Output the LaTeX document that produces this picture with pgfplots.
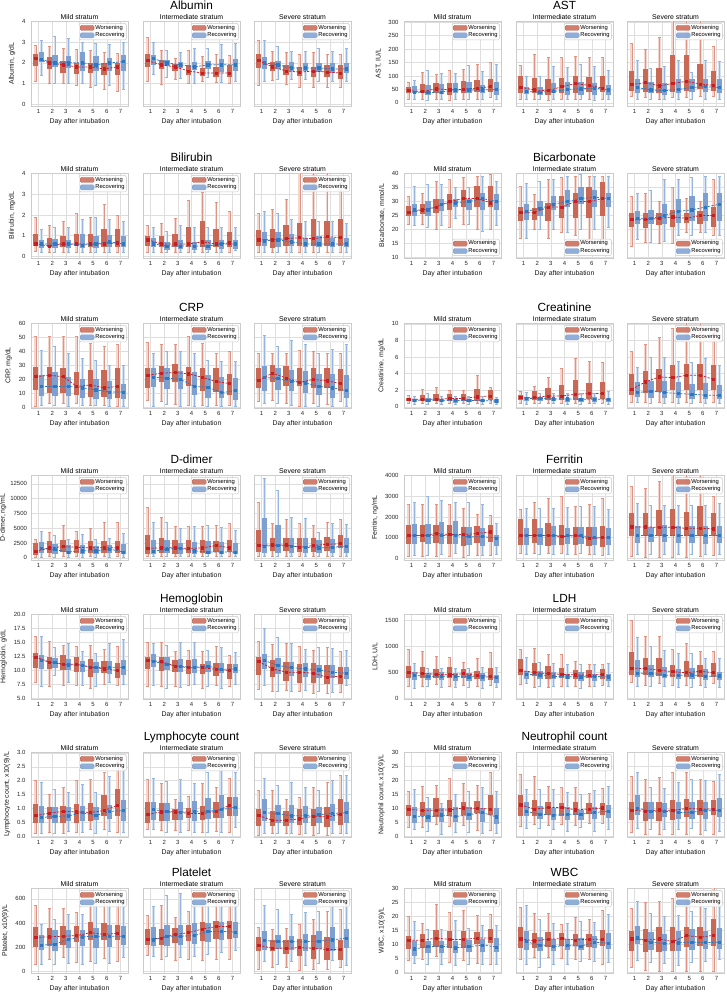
\documentclass[border=0pt]{standalone}
\usepackage{pgfplots}
\usepackage{pgfplotstable}
\pgfplotsset{compat=1.18}
\usepackage{fontspec}
\setmainfont{Liberation Sans}

\definecolor{wbox}{RGB}{201,104,84}
\definecolor{wwhisk}{RGB}{222,148,130}
\definecolor{wband}{RGB}{244,214,206}
\definecolor{wline}{RGB}{200,30,35}
\definecolor{rbox}{RGB}{125,160,208}
\definecolor{rwhisk}{RGB}{150,182,224}
\definecolor{rband}{RGB}{214,227,243}
\definecolor{rline}{RGB}{45,120,195}

\newcommand{\fa}{\fontsize{6}{7}\selectfont}
\newcommand{\fb}{\fontsize{6.9}{8}\selectfont}
\newcommand{\fc}{\fontsize{11.8}{14}\selectfont}
\newcommand{\fl}{\fontsize{5.8}{6.8}\selectfont}

\pgfplotsset{
 every axis title shift=0pt,
 sub/.style={
  scale only axis, width=97pt, height=85pt, anchor=north west,
  xmin=0.45, xmax=7.55, xtick={1,...,7},
  grid=major, major grid style={line width=0.5pt, draw=black!13},
  axis line style={draw=black!20, line width=0.6pt},
  major tick length=0pt, tick style={draw=none},
  tick label style={font=\fa, text=black!85},
  yticklabel style={xshift=-2pt},
  xticklabel style={yshift=0.5pt},
  scaled y ticks=false,
  xlabel={Day after intubation},
  label style={font=\fb, text=black!90},
  xlabel style={yshift=1.5pt},
  every axis title/.style={at={(0.5,1)}, anchor=south, inner sep=1.6pt, font=\fb},
  legend style={font=\fl, draw=black!22, rounded corners=1.5pt, fill=white, fill opacity=0.85, text opacity=1,
    inner sep=0.8pt, nodes={inner sep=0.9pt}, at={(0.985,0.975)}, anchor=north east},
  legend cell align=left,
  /pgf/number format/assume math mode=true,
  /pgf/number format/1000 sep={},
 },
 legNE/.style={legend style={at={(0.985,0.975)}, anchor=north east}},
 legSE/.style={legend style={at={(0.985,0.025)}, anchor=south east}},
 onedec/.style={yticklabel style={/pgf/number format/.cd, fixed, fixed zerofill, precision=1}},
 tight/.style={yticklabel style={xshift=1.5pt}, ylabel shift=-3pt},
}

% vertical segment from column #3 to column #4, drawn as a quiver arrow without head
\newcommand{\seg}[6]{\addplot[forget plot, mark=none, draw=#5, line width=#6, quiver={u=0, v=\thisrow{#4}-\thisrow{#3}}] table[x expr=\thisrow{d}#2, y=#3] {#1};}
\newcommand{\caps}[4]{\addplot[forget plot, only marks, mark=-, mark size=1.5pt, color=#4, mark options={line width=0.5pt}] table[x expr=\thisrow{d}#2, y=#3] {#1};}
\newcommand{\medline}[3]{\addplot[forget plot, color=#3line, line width=0.75pt, dash pattern=on 2.2pt off 1.4pt, mark=square*, mark size=1.1pt, mark options={solid, fill=#3line}] table[x expr=\thisrow{d}#2, y=#3m] {#1};}
\newcommand{\drawsub}[1]{%
  \seg{#1}{-0.2}{wl}{wh}{wband}{2.8pt}\seg{#1}{+0.2}{rl}{rh}{rband}{2.8pt}%
  \seg{#1}{-0.2}{wl}{wh}{wwhisk}{0.5pt}\seg{#1}{+0.2}{rl}{rh}{rwhisk}{0.5pt}%
  \caps{#1}{-0.2}{wl}{wwhisk}\caps{#1}{-0.2}{wh}{wwhisk}%
  \caps{#1}{+0.2}{rl}{rwhisk}\caps{#1}{+0.2}{rh}{rwhisk}%
  \seg{#1}{-0.2}{wq}{wu}{wbox}{5.3pt}\seg{#1}{+0.2}{rq}{ru}{rbox}{5.3pt}%
  \medline{#1}{-0.2}{w}\medline{#1}{+0.2}{r}%
  \addlegendimage{legend image code/.code={\fill[wbox] (0pt,-2.6pt) rectangle (14pt,2.6pt);}}
  \addlegendentry{Worsening}
  \addlegendimage{legend image code/.code={\fill[rbox] (0pt,-2.6pt) rectangle (14pt,2.6pt);}}
  \addlegendentry{Recovering}%
}
\newcommand{\setL}{\def\xA{31}\def\xB{143}\def\xC{254}}
\newcommand{\setR}{\def\xA{404}\def\xB{516}\def\xC{627}}
\newcommand{\panel}[9]{%
  \csname set#1\endcsname
  \begin{axis}[sub, at={(\xA pt,-#2pt)}, title={Mild stratum}, ylabel={#4}, #5, #9]
    \drawsub{#6}
  \end{axis}
  \begin{axis}[sub, name=midax, at={(\xB pt,-#2pt)}, title={Intermediate stratum}, #5, yticklabels={}, #9]
    \drawsub{#7}
  \end{axis}
  \node[anchor=base, font=\fc] at ([yshift=11.5pt]midax.north) {#3};
  \begin{axis}[sub, at={(\xC pt,-#2pt)}, title={Severe stratum}, #5, yticklabels={}, #9]
    \drawsub{#8}
  \end{axis}
}

% columns: day, worsening (low whisker, q1, median, q3, high whisker), recovering (same)
\pgfplotstableread{
d wl wq wm wu wh rl rq rm ru rh
1 1.1 1.85 2.2 2.45 2.85 1.4 2.05 2.15 2.5 3.1
2 1.0 1.7 2.0 2.3 2.8 1.0 1.8 2.0 2.4 3.3
3 1.0 1.5 1.9 2.1 2.7 1.0 1.75 2.0 2.35 3.2
4 0.9 1.45 1.8 2.0 2.65 1.0 1.6 2.0 2.5 3.0
5 0.8 1.5 1.8 2.0 2.6 0.9 1.6 1.9 2.35 2.95
6 0.7 1.4 1.7 2.0 2.5 0.9 1.6 2.0 2.25 2.9
7 0.6 1.4 1.8 2.0 2.45 0.7 1.6 2.05 2.4 3.0
}\tAlbM
\pgfplotstableread{
d wl wq wm wu wh rl rq rm ru rh
1 1.1 1.8 2.1 2.45 3.25 1.45 1.9 2.2 2.4 3.0
2 0.95 1.7 1.9 2.15 2.6 1.3 1.85 2.0 2.15 2.6
3 1.2 1.6 1.8 1.95 2.2 1.25 1.75 1.9 2.05 2.5
4 1.0 1.4 1.6 1.9 2.6 1.0 1.65 1.8 2.05 2.7
5 1.1 1.35 1.5 1.75 2.3 1.3 1.7 1.9 2.1 2.7
6 1.05 1.3 1.5 1.8 2.4 1.05 1.55 1.9 2.2 2.9
7 1.0 1.3 1.5 1.9 2.35 1.1 1.6 1.9 2.2 2.95
}\tAlbI
\pgfplotstableread{
d wl wq wm wu wh rl rq rm ru rh
1 0.9 1.75 2.1 2.45 3.1 1.1 1.7 2.0 2.3 3.1
2 1.15 1.6 1.8 2.05 2.55 1.2 1.7 1.9 2.1 2.8
3 0.95 1.4 1.6 1.9 2.5 1.2 1.6 1.75 2.05 2.55
4 0.8 1.35 1.55 1.8 2.4 1.2 1.6 1.75 2.0 2.55
5 0.8 1.3 1.6 1.8 2.5 1.1 1.55 1.75 2.0 2.7
6 0.8 1.3 1.55 1.9 2.4 1.1 1.5 1.7 2.0 2.55
7 0.8 1.2 1.5 1.9 2.4 1.1 1.5 1.7 2.0 2.7
}\tAlbS
\pgfplotstableread{
d wl wq wm wu wh rl rq rm ru rh
1 15 35 45 60 78 15 35 40 62 85
2 15 35 42 70 115 10 30 38 65 120
3 15 35 52 72 105 12 33 40 70 110
4 10 30 48 72 120 12 35 48 72 110
5 15 35 50 80 125 12 35 48 78 140
6 15 40 55 85 142 12 35 48 68 118
7 20 40 60 90 150 12 30 50 78 142
}\tAstM
\pgfplotstableread{
d wl wq wm wu wh rl rq rm ru rh
1 15 38 58 100 140 12 32 42 60 100
2 12 35 48 92 180 12 30 40 60 100
3 10 30 45 87 168 12 35 42 72 135
4 15 38 60 93 168 12 30 50 78 132
5 12 38 72 100 175 12 30 52 78 142
6 15 40 65 97 168 10 30 55 75 135
7 15 40 55 100 168 12 30 48 68 120
}\tAstI
\pgfplotstableread{
d wl wq wm wu wh rl rq rm ru rh
1 25 45 68 117 222 15 35 57 87 160
2 20 40 75 125 198 12 35 48 78 130
3 15 35 63 130 243 12 30 45 75 135
4 20 40 72 177 330 15 35 50 87 157
5 20 45 80 180 330 15 40 57 87 115
6 25 50 70 144 330 15 40 60 88 160
7 25 45 65 120 210 15 35 57 90 155
}\tAstS
\pgfplotstableread{
d wl wq wm wu wh rl rq rm ru rh
1 0.25 0.5 0.6 1.1 1.9 0.2 0.4 0.6 0.8 1.3
2 0.2 0.45 0.5 0.9 1.5 0.2 0.4 0.6 0.85 1.4
3 0.2 0.45 0.6 1.0 1.7 0.2 0.4 0.6 0.8 1.4
4 0.2 0.5 0.6 1.1 2.1 0.2 0.4 0.55 1.1 1.8
5 0.2 0.45 0.6 1.1 1.9 0.2 0.4 0.6 1.0 1.9
6 0.2 0.45 0.6 1.3 2.5 0.2 0.45 0.7 1.05 1.8
7 0.2 0.45 0.65 1.3 2.0 0.2 0.45 0.6 1.0 1.7
}\tBilM
\pgfplotstableread{
d wl wq wm wu wh rl rq rm ru rh
1 0.2 0.5 0.8 1.0 1.5 0.2 0.45 0.6 0.9 1.4
2 0.2 0.45 0.6 1.0 1.6 0.2 0.3 0.5 0.7 1.2
3 0.2 0.45 0.6 1.1 1.85 0.2 0.35 0.5 0.8 1.5
4 0.2 0.45 0.6 1.4 2.7 0.2 0.3 0.5 0.7 1.4
5 0.2 0.45 0.7 1.7 3.1 0.2 0.3 0.5 0.8 1.4
6 0.2 0.45 0.6 1.3 2.6 0.2 0.35 0.6 0.8 1.4
7 0.2 0.45 0.65 1.2 2.2 0.3 0.35 0.6 0.8 1.4
}\tBilI
\pgfplotstableread{
d wl wq wm wu wh rl rq rm ru rh
1 0.2 0.5 0.8 1.25 2.1 0.2 0.5 0.75 1.2 2.2
2 0.2 0.4 0.8 1.3 2.3 0.2 0.45 0.8 1.2 2.1
3 0.2 0.5 0.85 1.5 2.75 0.2 0.5 0.7 1.1 1.8
4 0.2 0.5 0.9 1.6 4.2 0.2 0.45 0.6 0.9 1.7
5 0.2 0.5 0.85 1.8 4.2 0.2 0.45 0.6 1.0 1.7
6 0.2 0.5 0.95 1.7 4.2 0.2 0.45 0.6 0.9 1.7
7 0.2 0.5 0.9 1.8 3.6 0.2 0.45 0.6 0.9 1.6
}\tBilS
\pgfplotstableread{
d wl wq wm wu wh rl rq rm ru rh
1 22 25 26 28.5 32 21.5 25 27 29 35.5
2 22 25.5 27 29 33 21 25 27 30 36
3 20 26 28 31 37 21.5 26.5 29 31 36
4 21 27 30 32.5 38 24 28 29.5 31 35
5 22 28 31 34 38.5 22 27 30 31 35
6 20 28 31 35.5 39 19.5 27 31 33 39
7 20 28 29.5 35.5 39.5 21.5 27 30 32.5 37
}\tBicM
\pgfplotstableread{
d wl wq wm wu wh rl rq rm ru rh
1 16.8 23 26 28 35.5 17 23.5 26.5 29 36.5
2 20 23.5 26 27.5 32.5 20 25 27.5 30 37
3 17 23 28 29.5 38 20 27 29 32 38
4 19 24 28 32 38.5 19 28 30 34 39
5 18 24 30 33 39 20 29 31 35 39.5
6 15 24 30 35 39 20 28 31.5 34 39
7 15 25 31 37 39 21 28 31 33 39
}\tBicI
\pgfplotstableread{
d wl wq wm wu wh rl rq rm ru rh
1 14 21 23.5 26 32 16.5 22 24 26.5 33
2 15.5 20.5 23.5 26 33 15.5 22 24 27 34
3 15 21.5 24 26 30 16 22 25 29 38
4 15 21 24.5 27 35 18 22.5 26.5 31 38
5 19 22.5 24 26 31 18 23 27 32 38.5
6 19 22 25 26.5 30 19 23 28 33 39
7 18 21 25 28 38 18 23 29 33 39
}\tBicS
\pgfplotstableread{
d wl wq wm wu wh rl rq rm ru rh
1 0.5 12.5 22 29 51 1.5 8 15 23 41
2 3 10 23 29 51 1.5 8 15 25 44
3 3 10 22 28 51 1 8 15 22 39
4 3 9 15 25.5 51 1.5 7 14 20.5 35.5
5 1.5 7.5 16 27 46 1.5 6 12.5 20 34
6 1.5 7.5 14 26.5 43.5 1 6 11 19 30.5
7 1 6.5 15 28 45 1 6 11 16.5 30.5
}\tCrpM
\pgfplotstableread{
d wl wq wm wu wh rl rq rm ru rh
1 5 14 23 28.5 47 1 14.5 21.5 28 38.5
2 4.5 18 24.5 29.5 45.5 2 13 21 28 40
3 2 18 25 31 45.5 1 13 20 26 40.5
4 1.5 15 24 29 51 1 9 15 25.5 38.5
5 1.5 12 21.5 28.5 46 1 6.5 14.5 23.5 33.5
6 1.5 11 18.5 28 39 1 6.5 10.5 22 33
7 1.5 9 17 24 40 1 5.5 12 21 33
}\tCrpI
\pgfplotstableread{
d wl wq wm wu wh rl rq rm ru rh
1 4 14 19.5 28 39 3 11.5 21.5 29.5 52
2 5 18 24.5 30.5 39 3 12.5 20.5 28 44
3 3 15 21 29.5 39 1.5 11.5 18.5 27 48
4 1 15 18 28.5 41 1 10 17.5 26 45
5 3 14 20 28.5 40 1 9 15 24 38.5
6 2.5 14 19 28.5 39 1 7 14 24 42
7 4 12 17 27.5 39 1 6.5 12 23 45
}\tCrpS
\pgfplotstableread{
d wl wq wm wu wh rl rq rm ru rh
1 0.4 0.7 0.9 1.1 1.4 0.3 0.6 0.8 0.95 1.3
2 0.4 0.7 0.9 1.4 2.1 0.3 0.55 0.8 1.0 1.6
3 0.4 0.7 0.9 1.5 2.4 0.3 0.55 0.8 0.95 1.3
4 0.4 0.7 1.0 1.5 2.0 0.3 0.5 0.75 0.95 1.3
5 0.4 0.7 1.0 1.5 2.0 0.3 0.55 0.75 0.95 1.3
6 0.4 0.7 1.2 2.2 3.8 0.3 0.55 0.75 0.95 1.3
7 0.4 0.8 1.3 2.0 2.4 0.3 0.5 0.7 0.95 1.2
}\tCreM
\pgfplotstableread{
d wl wq wm wu wh rl rq rm ru rh
1 0.4 0.8 1.1 1.4 1.9 0.3 0.7 1.0 1.2 1.7
2 0.4 0.8 1.1 1.9 2.5 0.4 0.7 1.0 1.2 1.6
3 0.4 0.8 1.3 2.3 3.6 0.4 0.7 0.95 1.1 1.6
4 0.4 0.8 1.3 2.6 4.7 0.3 0.6 0.95 1.1 1.6
5 0.4 0.8 1.5 3.2 5.8 0.3 0.6 0.9 1.1 1.6
6 0.4 0.9 1.6 2.9 5.5 0.4 0.6 0.9 1.2 1.6
7 0.4 0.9 1.6 3.0 5.4 0.3 0.6 0.9 1.1 1.9
}\tCreI
\pgfplotstableread{
d wl wq wm wu wh rl rq rm ru rh
1 0.5 1.4 2.1 3.9 6.7 0.5 1.2 1.7 3.0 4.8
2 0.6 1.6 3.0 4.3 7.5 0.4 1.0 1.9 3.1 6.0
3 0.6 1.8 3.6 4.5 8.4 0.4 1.0 1.7 3.1 6.0
4 0.6 2.0 3.5 5.0 9.5 0.4 1.0 1.6 3.0 5.5
5 0.6 2.0 3.8 5.2 10.5 0.4 0.9 1.5 2.8 5.4
6 0.6 2.0 3.8 5.1 10.5 0.4 0.9 1.4 2.9 5.9
7 0.6 2.0 3.3 5.0 9.5 0.4 0.9 1.4 2.6 5.0
}\tCreS
\pgfplotstableread{
d wl wq wm wu wh rl rq rm ru rh
1 100 500 1100 2500 3200 100 800 1600 2700 4500
2 200 900 1700 2900 4300 100 700 1400 2400 3800
3 200 1000 1900 3000 5600 100 700 1000 2100 3100
4 200 900 1800 3000 4500 100 700 1200 2100 4000
5 200 900 1700 2800 5000 100 700 1200 2000 3100
6 200 900 1700 2800 6100 100 800 1500 2100 3300
7 200 900 1700 2800 6000 100 700 1000 2400 4100
}\tDdiM
\pgfplotstableread{
d wl wq wm wu wh rl rq rm ru rh
1 200 600 1600 3900 8600 200 600 1100 3000 6000
2 300 900 1700 3400 6800 200 900 1500 3000 6000
3 200 700 1700 3100 5400 200 700 1600 2600 5000
4 200 800 1600 3100 5400 200 700 1200 2700 5300
5 200 900 1700 3100 5400 200 700 1000 2800 5500
6 200 1000 2100 2800 5600 200 700 1000 2700 5200
7 200 1000 1700 3100 5800 200 700 1000 2500 4600
}\tDdiI
\pgfplotstableread{
d wl wq wm wu wh rl rq rm ru rh
1 300 1000 2100 4800 9400 200 900 2000 6700 13400
2 300 1100 2200 3300 5900 200 800 2100 5600 11500
3 300 1100 2200 3400 6600 200 800 2000 3300 6800
4 300 1000 1800 3300 5800 200 800 1800 3300 6700
5 300 1000 2100 3300 5500 200 800 1700 3100 4300
6 200 1200 2300 3500 6000 200 800 1800 3200 5800
7 200 1600 2400 3800 6500 300 900 2000 3300 5700
}\tDdiS
\pgfplotstableread{
d wl wq wm wu wh rl rq rm ru rh
1 100 700 1100 1620 2620 150 700 1100 1680 2720
2 100 800 1100 1600 2620 150 700 1100 1680 3000
3 100 750 1200 1600 2620 200 700 1100 1750 2800
4 100 700 1150 1620 2620 250 700 1100 1800 2700
5 50 600 1150 1500 2430 150 650 1050 1540 2700
6 150 760 1200 1580 2130 150 600 1050 1450 2620
7 150 800 1280 1600 2080 200 580 980 1130 1720
}\tFerM
\pgfplotstableread{
d wl wq wm wu wh rl rq rm ru rh
1 250 650 1100 1920 2380 200 650 1100 1480 2430
2 250 750 1100 1920 2700 200 650 1100 1480 2430
3 250 600 1100 1720 2900 200 650 1100 1550 2430
4 250 650 1050 1620 3000 200 700 1100 1480 2450
5 200 650 1100 1500 2500 250 700 1100 1500 2500
6 200 600 950 1500 2600 200 650 1000 1500 2520
7 150 550 1000 1550 2900 200 650 1000 1450 2380
}\tFerI
\pgfplotstableread{
d wl wq wm wu wh rl rq rm ru rh
1 100 1100 1520 2180 3500 200 750 1100 1550 2680
2 50 1100 1520 2200 3400 200 800 1100 1520 2550
3 50 1100 1500 2330 3750 200 800 1100 1600 2550
4 50 1100 1500 2380 4200 200 750 1100 1550 2550
5 50 1100 1450 2230 4200 200 750 1100 1550 2550
6 100 1100 1450 2530 4200 200 700 1100 1550 2550
7 150 1100 1430 2170 3000 200 750 1100 1550 2680
}\tFerS
\pgfplotstableread{
d wl wq wm wu wh rl rq rm ru rh
1 7.9 10.4 12.4 13.1 16.1 7.1 10.3 11.8 12.8 16.1
2 7.2 10.2 11.5 12.5 15.2 9.2 10.4 11.4 12.2 14.1
3 7.4 10.0 11.1 12.7 14.5 7.9 10.0 11.0 12.1 14.8
4 7.4 9.7 11.1 12.5 14.3 7.4 9.8 10.9 11.7 13.4
5 6.9 8.9 10.6 12.0 14.5 7.2 9.6 10.5 11.5 13.0
6 7.5 9.5 10.3 11.7 13.8 7.9 9.4 10.6 11.7 14.9
7 7.3 8.7 10.0 11.3 14.3 7.5 9.2 10.6 11.9 15.6
}\tHgbM
\pgfplotstableread{
d wl wq wm wu wh rl rq rm ru rh
1 7.2 10.3 11.8 12.5 15.0 7.4 10.6 11.6 13.0 14.8
2 7.2 9.9 11.6 12.4 15.0 6.8 10.0 11.1 12.5 14.6
3 7.2 9.7 10.8 11.9 13.5 7.0 9.7 10.7 12.0 15.0
4 7.3 9.4 10.5 11.8 13.6 7.6 9.6 10.6 12.0 15.0
5 6.8 9.4 10.5 11.2 13.5 7.2 9.7 10.8 11.7 13.7
6 7.3 9.0 10.2 11.4 14.3 6.9 9.5 10.2 11.3 14.1
7 7.2 8.4 10.0 11.1 12.7 7.5 9.5 10.3 11.1 13.2
}\tHgbI
\pgfplotstableread{
d wl wq wm wu wh rl rq rm ru rh
1 6.7 9.2 11.6 12.4 15.2 7.4 10.3 11.8 13.0 17.5
2 6.3 8.8 10.3 11.8 14.7 6.2 9.3 10.9 12.2 15.9
3 6.5 8.1 9.7 11.6 14.9 6.2 9.0 10.5 11.5 14.9
4 6.2 7.7 9.7 11.2 14.3 6.5 8.9 10.3 11.3 13.8
5 6.0 7.7 9.5 11.3 13.6 6.3 8.6 10.1 10.9 14.1
6 6.0 7.5 8.8 10.9 14.1 6.1 8.6 9.7 10.9 13.9
7 6.1 7.5 9.0 10.7 13.5 7.3 8.4 9.5 10.7 13.7
}\tHgbS
\pgfplotstableread{
d wl wq wm wu wh rl rq rm ru rh
1 220 380 490 630 940 180 350 440 510 680
2 220 390 480 600 900 220 340 420 480 580
3 270 380 460 570 810 210 340 420 500 580
4 220 390 450 600 790 210 330 420 480 580
5 240 390 470 560 690 200 330 410 490 580
6 230 360 440 530 770 190 330 410 480 600
7 250 350 420 580 880 200 300 400 450 600
}\tLdhM
\pgfplotstableread{
d wl wq wm wu wh rl rq rm ru rh
1 260 450 530 760 950 280 370 460 520 790
2 210 420 500 670 970 220 360 450 520 690
3 210 370 470 620 840 230 360 420 500 680
4 230 380 460 580 840 220 360 410 470 650
5 220 360 450 550 720 180 330 410 500 650
6 230 380 440 550 660 230 320 420 470 650
7 240 360 460 560 650 220 320 410 470 680
}\tLdhI
\pgfplotstableread{
d wl wq wm wu wh rl rq rm ru rh
1 300 450 580 890 1510 230 400 480 740 1180
2 240 450 570 780 1200 230 400 480 640 1000
3 280 430 540 770 1200 230 380 440 600 930
4 250 400 510 640 950 210 360 440 560 860
5 250 400 490 710 1060 210 370 450 590 870
6 240 400 520 640 910 210 350 420 560 780
7 280 400 490 670 910 210 340 430 500 780
}\tLdhS
\pgfplotstableread{
d wl wq wm wu wh rl rq rm ru rh
1 0.12 0.48 0.75 1.15 2.0 0.12 0.48 0.68 1.1 1.95
2 0.15 0.62 0.84 1.07 1.52 0.12 0.5 0.72 1.07 1.7
3 0.12 0.47 0.9 1.1 1.75 0.18 0.55 0.74 1.06 1.58
4 0.15 0.5 0.88 1.16 2.0 0.15 0.55 0.85 1.1 1.88
5 0.25 0.55 0.86 1.2 2.05 0.1 0.6 0.75 1.05 1.57
6 0.25 0.72 0.93 1.5 2.3 0.2 0.62 0.9 1.12 2.15
7 0.15 0.75 1.12 1.72 2.8 0.15 0.55 0.93 1.3 2.4
}\tLymM
\pgfplotstableread{
d wl wq wm wu wh rl rq rm ru rh
1 0.25 0.47 0.8 1.22 2.05 0.25 0.58 0.96 1.25 2.08
2 0.22 0.55 0.88 1.2 1.92 0.15 0.55 0.9 1.2 1.98
3 0.22 0.6 0.88 1.0 1.32 0.15 0.58 0.87 1.25 2.05
4 0.22 0.65 0.83 1.02 1.45 0.15 0.55 0.91 1.27 1.9
5 0.15 0.58 0.82 1.1 1.9 0.15 0.63 0.9 1.38 2.3
6 0.18 0.68 0.9 1.25 1.75 0.15 0.65 0.96 1.47 2.5
7 0.15 0.72 1.12 1.4 2.08 0.32 0.75 1.05 1.4 2.3
}\tLymI
\pgfplotstableread{
d wl wq wm wu wh rl rq rm ru rh
1 0.05 0.38 0.75 0.98 1.65 0.1 0.55 0.85 1.33 2.1
2 0.1 0.37 0.58 0.92 1.65 0.1 0.48 0.82 1.12 1.85
3 0.1 0.38 0.58 0.9 1.32 0.1 0.48 0.74 1.12 1.95
4 0.08 0.4 0.63 0.98 1.4 0.1 0.5 0.75 1.08 1.75
5 0.05 0.38 0.73 1.0 1.78 0.1 0.5 0.78 1.06 1.65
6 0.05 0.35 0.7 1.05 1.93 0.1 0.55 0.83 1.18 2.0
7 0.1 0.42 0.8 1.33 2.2 0.12 0.5 0.85 1.25 2.2
}\tLymS
\pgfplotstableread{
d wl wq wm wu wh rl rq rm ru rh
1 3.2 7.2 9.7 11.3 16.0 2.6 4.8 7.3 10.5 16.8
2 3.2 7.2 9.3 12.4 18.0 1.7 5.2 7.0 10.2 13.9
3 4.3 7.0 9.4 13.7 18.2 0.9 5.0 7.7 10.2 11.9
4 3.5 7.2 9.5 13.0 20.8 1.4 5.0 7.1 10.5 15.0
5 3.9 7.8 10.2 12.2 19.0 1.4 6.0 7.8 10.5 16.3
6 2.2 8.5 10.0 12.7 18.2 1.1 5.2 8.5 10.0 17.5
7 2.2 7.5 9.8 14.8 23.0 1.3 4.6 7.0 10.0 16.3
}\tNeuM
\pgfplotstableread{
d wl wq wm wu wh rl rq rm ru rh
1 3.5 7.2 11.3 14.8 22.2 2.8 7.2 8.9 12.5 16.8
2 4.2 7.3 9.8 13.2 21.4 2.8 6.2 8.0 11.0 16.8
3 4.0 7.8 10.3 12.5 17.8 2.6 6.0 7.6 10.0 17.0
4 4.4 7.3 10.4 12.0 17.5 1.9 5.9 7.9 10.5 15.7
5 4.0 7.5 9.5 12.2 17.5 3.2 5.9 8.0 9.5 15.0
6 4.6 8.2 9.8 11.8 15.6 2.0 6.4 8.5 10.6 16.4
7 4.6 7.8 10.2 12.0 17.2 2.6 6.7 9.1 11.4 17.8
}\tNeuI
\pgfplotstableread{
d wl wq wm wu wh rl rq rm ru rh
1 1.5 6.0 9.4 12.5 21.5 3.0 7.5 10.1 14.7 23.0
2 0.8 5.5 9.0 12.3 20.3 2.6 6.2 9.0 12.2 17.6
3 0.8 5.5 9.5 12.3 21.0 2.5 6.8 9.0 11.8 17.2
4 0.8 6.0 9.3 13.2 23.0 2.5 6.3 8.6 12.4 19.3
5 0.8 7.0 10.0 13.3 23.0 2.8 6.3 8.6 12.2 20.5
6 0.8 7.5 9.8 12.9 20.3 2.2 6.3 9.4 12.3 20.0
7 0.8 7.5 9.8 13.2 19.7 2.0 6.8 9.4 13.7 22.3
}\tNeuS
\pgfplotstableread{
d wl wq wm wu wh rl rq rm ru rh
1 60 200 280 370 550 55 175 215 300 390
2 95 205 285 360 520 60 170 225 340 435
3 115 220 290 375 525 65 195 265 340 475
4 75 245 295 375 485 60 210 285 340 470
5 85 255 320 405 600 65 195 290 360 575
6 105 255 305 400 600 70 200 290 380 600
7 80 255 315 380 600 115 215 290 375 600
}\tPltM
\pgfplotstableread{
d wl wq wm wu wh rl rq rm ru rh
1 130 220 265 350 465 120 205 260 370 540
2 100 215 275 350 545 120 210 290 380 630
3 90 230 305 360 450 115 215 290 385 645
4 95 250 320 380 495 120 225 295 400 560
5 90 250 350 410 600 140 240 330 400 600
6 100 265 370 420 650 160 255 330 405 600
7 95 270 370 415 620 170 275 325 410 600
}\tPltI
\pgfplotstableread{
d wl wq wm wu wh rl rq rm ru rh
1 20 170 215 280 365 85 175 255 335 545
2 30 165 190 260 350 60 180 245 300 510
3 30 145 190 260 360 80 175 245 290 475
4 10 125 195 265 390 50 170 245 310 485
5 15 105 190 300 430 70 180 250 335 500
6 15 90 180 285 500 90 170 260 365 560
7 30 95 180 260 510 50 195 275 350 580
}\tPltS
\pgfplotstableread{
d wl wq wm wu wh rl rq rm ru rh
1 4.2 8.5 11.5 13.2 20.0 3.2 6.0 8.4 11.3 18.3
2 4.6 8.7 11.5 13.7 17.7 3.1 6.8 9.2 11.3 15.4
3 5.9 9.1 12.3 15.3 24.4 2.8 6.8 9.4 11.2 15.4
4 3.8 8.9 11.8 14.8 21.5 2.4 6.8 8.8 11.2 18.6
5 4.2 8.6 11.8 14.7 22.2 3.0 7.3 9.2 11.6 15.8
6 3.3 10.0 12.3 14.4 20.6 3.0 7.2 9.8 12.0 17.0
7 3.1 10.6 12.3 15.5 20.8 3.0 7.4 9.1 12.5 16.8
}\tWbcM
\pgfplotstableread{
d wl wq wm wu wh rl rq rm ru rh
1 4.6 8.9 12.0 16.2 23.3 3.0 8.1 11.0 14.7 24.0
2 5.4 8.9 11.3 14.1 21.2 1.7 7.5 9.7 12.6 19.0
3 5.4 9.0 11.9 14.5 21.0 2.8 7.6 9.3 12.0 17.6
4 5.1 9.5 12.1 14.0 17.2 2.8 8.0 9.6 12.0 17.7
5 4.6 9.6 11.6 13.8 19.6 4.1 8.1 9.4 12.4 18.3
6 4.8 9.2 11.9 13.9 19.0 4.0 8.7 10.8 13.1 18.0
7 3.0 9.6 11.9 15.2 22.4 3.8 8.5 10.5 14.0 20.9
}\tWbcI
\pgfplotstableread{
d wl wq wm wu wh rl rq rm ru rh
1 1.7 7.8 12.0 14.8 22.9 4.2 10.0 12.4 16.5 25.5
2 0.9 7.2 11.5 15.5 25.2 3.8 8.1 10.8 14.5 21.2
3 0.3 7.3 12.0 16.2 25.3 3.3 7.8 10.4 13.6 20.0
4 0.3 7.8 11.0 16.2 26.5 2.6 7.8 10.6 14.8 20.4
5 0.3 9.1 13.2 16.1 27.0 3.8 8.1 10.8 15.5 22.0
6 0.3 9.6 12.6 16.4 27.0 4.1 8.4 10.7 15.0 23.0
7 0.3 9.3 13.3 19.0 30.5 4.8 8.3 10.8 15.8 24.5
}\tWbcS

\begin{document}
\begin{tikzpicture}
\panel{L}{21}{Albumin}{Albumin, g/dL}{ymin=-0.1, ymax=4.03, ytick={0,1,2,3,4}}{\tAlbM}{\tAlbI}{\tAlbS}{legNE}
\panel{R}{21}{AST}{AST, IU/L}{ymin=-12, ymax=305, ytick={0,50,...,300}}{\tAstM}{\tAstI}{\tAstS}{legNE}
\panel{L}{173}{Bilirubin}{Bilirubin, mg/dL}{ymin=-0.08, ymax=4.03, ytick={0,1,2,3,4}}{\tBilM}{\tBilI}{\tBilS}{legNE}
\panel{R}{173}{Bicarbonate}{Bicarbonate, mmol/L}{ymin=9.9, ymax=40.1, ytick={10,15,...,40}}{\tBicM}{\tBicI}{\tBicS}{legSE}
\panel{L}{323}{CRP}{CRP, mg/dL}{ymin=-0.5, ymax=60.5, ytick={0,10,...,60}}{\tCrpM}{\tCrpI}{\tCrpS}{legNE}
\panel{R}{323}{Creatinine}{Creatinine, mg/dL}{ymin=-0.15, ymax=10.1, ytick={0,2,...,10}}{\tCreM}{\tCreI}{\tCreS}{legNE}
\panel{L}{475}{D-dimer}{D-dimer, ng/mL}{ymin=-350, ymax=14000, ytick={0,2500,...,12500}, tight}{\tDdiM}{\tDdiI}{\tDdiS}{legNE}
\panel{R}{475}{Ferritin}{Ferritin, ng/mL}{ymin=-80, ymax=4030, ytick={0,1000,...,4000}}{\tFerM}{\tFerI}{\tFerS}{legNE}
\panel{L}{614}{Hemoglobin}{Hemoglobin, g/dL}{ymin=4.9, ymax=20.1, ytick={5,7.5,...,20}, onedec}{\tHgbM}{\tHgbI}{\tHgbS}{legNE}
\panel{R}{614}{LDH}{LDH, U/L}{ymin=-20, ymax=1630, ytick={0,500,1000,1500}}{\tLdhM}{\tLdhI}{\tLdhS}{legNE}
\panel{L}{752}{Lymphocyte count}{Lymphocyte count, x10(9)/L}{ymin=-0.02, ymax=3.03, ytick={0,0.5,...,3}, onedec}{\tLymM}{\tLymI}{\tLymS}{legNE}
\panel{R}{752}{Neutrophil count}{Neutrophil count, x10(9)/L}{ymin=-0.2, ymax=30.2, ytick={0,5,...,30}}{\tNeuM}{\tNeuI}{\tNeuS}{legNE}
\panel{L}{888}{Platelet}{Platelet, x10(9)/L}{ymin=-15, ymax=690, ytick={0,200,400,600}}{\tPltM}{\tPltI}{\tPltS}{legNE}
\panel{R}{888}{WBC}{WBC, x10(9)/L}{ymin=-0.2, ymax=30.2, ytick={0,5,...,30}}{\tWbcM}{\tWbcI}{\tWbcS}{legNE}
\pgfresetboundingbox
\path[use as bounding box] (0,0) rectangle (726pt,-993pt);
\end{tikzpicture}
\end{document}
